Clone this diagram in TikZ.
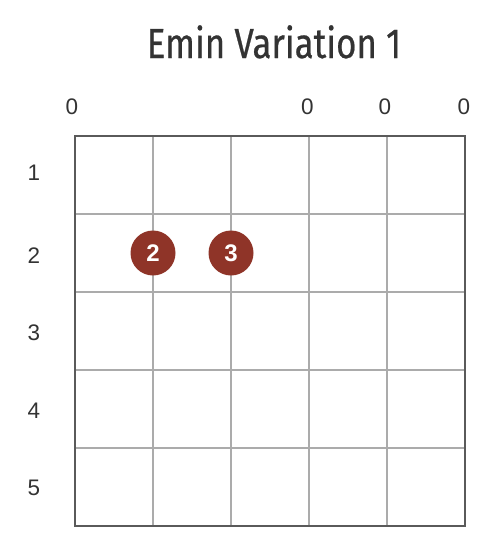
\documentclass[tikz,border=0pt]{standalone}
\usepackage{fontspec}
\setmainfont{Liberation Sans}
\newfontfamily\titlefont[FakeBold=0.6]{Fira Sans}
\usetikzlibrary{calc}
\definecolor{dotRed}{HTML}{8F3428}
\definecolor{frameGray}{HTML}{5A5A5A}
\definecolor{lineGray}{HTML}{ABABAB}
\definecolor{textGray}{HTML}{333333}

\begin{document}
\begin{tikzpicture}[x=1pt,y=-1pt,
  fretline/.style={draw=lineGray,line width=2pt},
  frame/.style={draw=frameGray,line width=2.5pt},
  label/.style={font=\fontsize{22.5}{24}\selectfont,textGray,inner sep=0pt},
  fingerdot/.style={circle,fill=dotRed,minimum size=45pt,inner sep=0pt,
                    text=white,font=\fontsize{24}{26}\selectfont\bfseries}]
\useasboundingbox (0,0) rectangle (498,538);
% title
\node[anchor=base,inner sep=0pt,textGray,font=\titlefont\fontsize{42}{44}\selectfont] (title) at (274,58)
  {\scalebox{0.83}[1]{Emin Variation 1}};
% grid
\foreach \x in {153,231,309,387}
  \draw[fretline] (\x,136) -- (\x,526);
\foreach \y in {214,292,370,448}
  \draw[fretline] (75,\y) -- (465,\y);
\draw[frame] (75,136) rectangle (465,526);
% open strings
\foreach \x/\n in {72/a,307.5/d,385/e,464/f}
  \node[label] (open\n) at (\x,107) {0};
% fret numbers
\foreach \y/\k in {173/1,256/2,333/3,411/4,488/5}
  \node[label] (fret\k) at (34,\y) {\k};
% fingers
\node[fingerdot] (dotTwo) at (153,253) {2};
\node[fingerdot] (dotThree) at (231,253) {3};
\end{tikzpicture}
\end{document}
